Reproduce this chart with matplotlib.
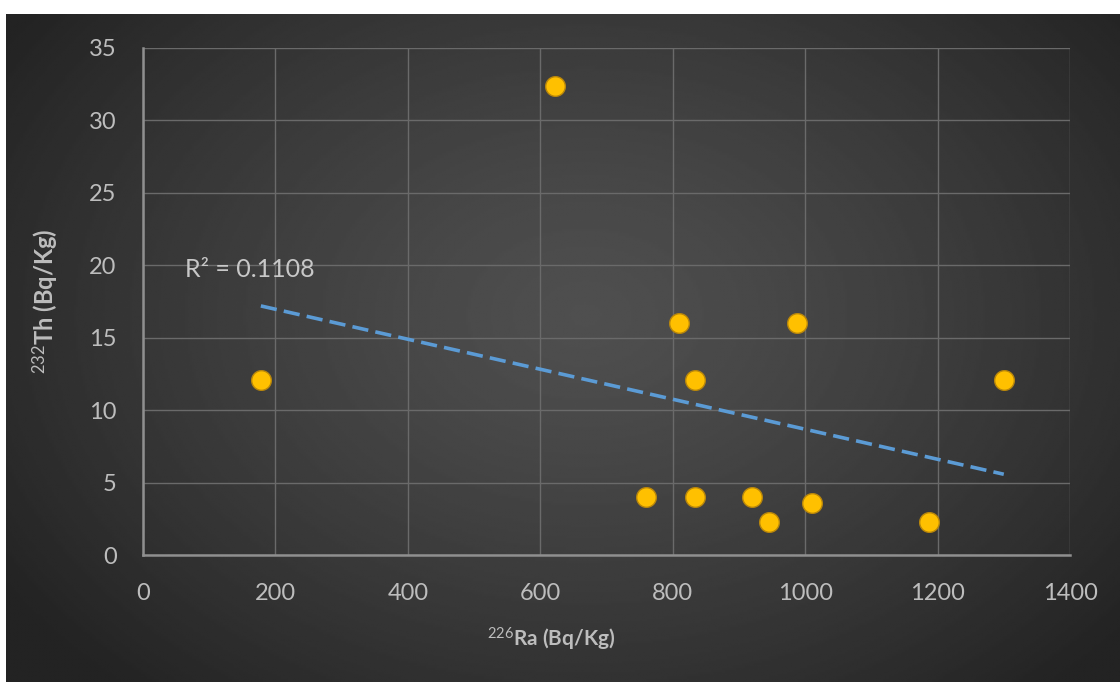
import numpy as np
import matplotlib
matplotlib.use("Agg")
import matplotlib.pyplot as plt

# Data
ra226 = [178, 622, 760, 810, 833, 833, 920, 945, 987, 1010, 1187, 1300]
th232 = [12.1, 32.4, 4.0, 16.0, 12.1, 4.0, 4.0, 2.3, 16.0, 3.6, 2.3, 12.1]
r2_text = "R² = 0.1108"

x_ticks = [0, 200, 400, 600, 800, 1000, 1200, 1400]
y_ticks = [0, 5, 10, 15, 20, 25, 30, 35]

fonts = ["Lato", "DejaVu Sans"]
plt.rcParams["font.family"] = fonts
plt.rcParams["mathtext.fontset"] = "custom"
plt.rcParams["mathtext.rm"] = "Lato"
plt.rcParams["mathtext.it"] = "Lato:italic"
plt.rcParams["mathtext.bf"] = "Lato:bold"

txt = "#bdbdbd"

fig = plt.figure(figsize=(11.2, 6.82), dpi=100)
fig.patch.set_facecolor("white")

# dark background panel with a radial gradient
bg = fig.add_axes([6 / 1120, 0, 1114 / 1120, 668 / 682])
yy, xx = np.mgrid[0:1:300j, 0:1:500j]
d = np.sqrt(((xx - 0.52) / 0.62) ** 2 + ((yy - 0.45) / 0.75) ** 2)
shade = 0.31 - 0.17 * np.clip(d, 0, 1) ** 1.3
bg.imshow(shade, cmap="gray", vmin=0, vmax=1, aspect="auto",
          extent=[0, 1, 0, 1], interpolation="bilinear")
bg.axis("off")

ax = fig.add_axes([143 / 1120, 1 - 555 / 682, 927 / 1120, 507 / 682])
ax.set_facecolor("none")

ax.scatter(ra226, th232, s=200, color="#FFC000", edgecolors="#B8860B",
           linewidths=1.0, zorder=4)

# linear trend line
k, b = np.polyfit(ra226, th232, 1)
xt = np.array([min(ra226), max(ra226)])
ax.plot(xt, k * xt + b, color="#5B9BD5", lw=2.6, ls=(0, (4.5, 2.0)), zorder=3)

ax.text(63, 19.7, r2_text, color="#c8c8c8", fontsize=18, va="center")

ax.set_xlim(0, 1400)
ax.set_ylim(0, 35)
ax.set_xticks(x_ticks)
ax.set_yticks(y_ticks)
ax.grid(True, color="#6a6a6a", lw=1.0, zorder=0)
ax.set_axisbelow(True)
for s in ["top", "right"]:
    ax.spines[s].set_visible(False)
for s in ["left", "bottom"]:
    ax.spines[s].set_color("#8f8f8f")
    ax.spines[s].set_linewidth(1.8)
ax.tick_params(length=0, colors=txt, labelsize=17)
ax.tick_params(axis="x", pad=20)
ax.tick_params(axis="y", pad=19)

ax.set_xlabel(r"$^{226}$Ra (Bq/Kg)", color=txt, fontsize=15, fontweight="bold")
ax.set_ylabel(r"$^{232}$Th (Bq/Kg)", color=txt, fontsize=17, fontweight="bold")
ax.xaxis.set_label_coords(0.44, -0.14)
ax.yaxis.set_label_coords(-0.088, 0.5)

fig.savefig("out.png", dpi=100)
